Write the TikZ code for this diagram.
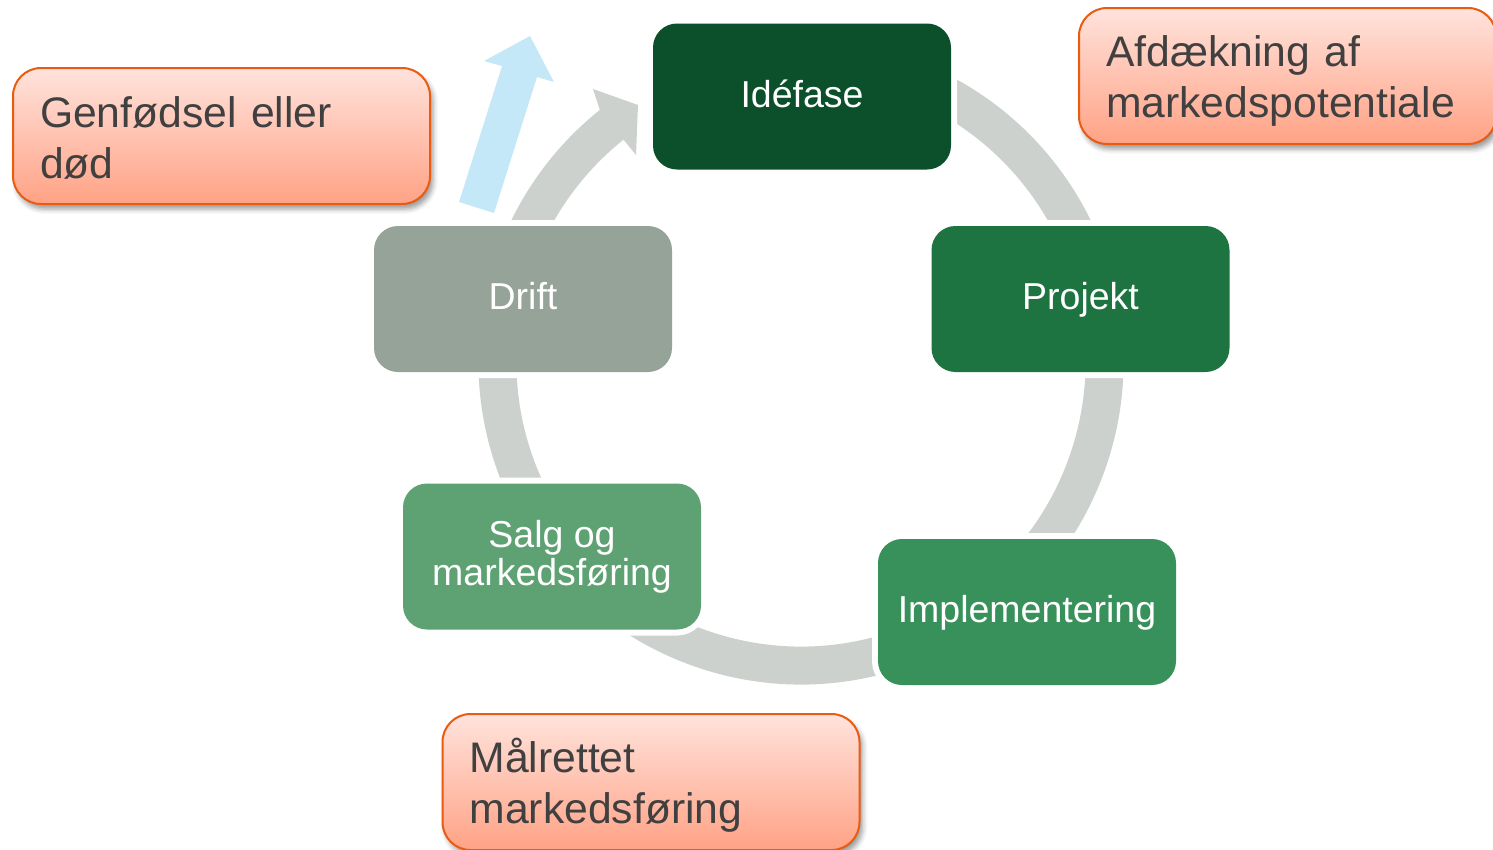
\documentclass[tikz,border=0pt]{standalone}
\usepackage{fontspec}
\setmainfont{Liberation Sans}
\usetikzlibrary{calc,shadows.blur}

\definecolor{ringgray}{HTML}{CDD1CE}
\definecolor{arrowblue}{HTML}{C5E8F9}
\definecolor{phaseA}{HTML}{0B4F2B}
\definecolor{phaseB}{HTML}{1D7440}
\definecolor{phaseC}{HTML}{38915A}
\definecolor{phaseD}{HTML}{5EA173}
\definecolor{phaseE}{HTML}{95A398}
\definecolor{noteTop}{HTML}{FFE3DC}
\definecolor{noteBottom}{HTML}{FFA285}
\definecolor{noteLine}{HTML}{E85B10}
\definecolor{noteText}{HTML}{404040}

\begin{document}
\begin{tikzpicture}[x=1pt, y=1pt,
  stage/.style={rectangle, rounded corners=24pt, minimum width=298pt,
    minimum height=146pt, inner sep=0pt, text=white, align=center,
    font=\fontsize{37.5}{38}\selectfont,
    preaction={draw=white, line width=12pt}},
  oneline/.style={text height=21pt, text depth=0pt},
  twoline/.style={execute at begin node={\rule{0pt}{30pt}},
    execute at end node={\rule[-5pt]{0pt}{5pt}}},
  note/.style={rectangle, rounded corners=28pt, minimum width=417pt,
    minimum height=136pt, text width=363pt, inner xsep=27pt, inner ysep=0pt,
    align=left, draw=noteLine, line width=2pt,
    top color=noteTop, bottom color=noteBottom, text=noteText,
    font=\fontsize{42.7}{51}\selectfont,
    execute at begin node={\rule{0pt}{40pt}},
    execute at end node={\rule[-7pt]{0pt}{7pt}},
    blur shadow={shadow xshift=3pt, shadow yshift=-5pt,
      shadow blur radius=5pt, shadow opacity=40}}
]
\useasboundingbox (0,0) rectangle (1493,-849);

% cycle ring, clockwise from under the first phase round to the arrow head
\coordinate (C) at (801,-362);
\draw[ringgray, line width=38pt]
  ($(C)+(72:303.5)$) arc[start angle=72, end angle=-232, radius=303.5];
% head of the ring arrow, pointing at the first phase
\fill[ringgray] ($(C)+(128.6:322.5)$) -- (593,-89) -- (638,-105) -- (636,-155)
  -- ($(C)+(128.6:284.5)$) -- cycle;

% upward arrow beside the last phase
\fill[arrowblue] (459,-202) -- (502,-66) -- (484,-61) -- (530,-36)
  -- (554,-82) -- (537,-77) -- (494,-213) -- cycle;

% phases
\node[stage, oneline, fill=phaseA] (idea) at (802,-96.5) {Idéfase};
\node[stage, oneline, fill=phaseB] (proj) at (1080.5,-299) {Projekt};
\node[stage, oneline, fill=phaseC] (impl) at (1027,-612) {Implementering};
\node[stage, twoline, fill=phaseD] (sale) at (552,-556.5) {Salg og\\markedsføring};
\node[stage, oneline, fill=phaseE] (run) at (523,-299) {Drift};

% notes
\node[note] (rebirth) at (221.5,-136) {Genfødsel eller\\død};
\node[note] (market) at (1287.5,-76) {Afdækning af\\markedspotentiale};
\node[note] (target) at (651,-782) {Målrettet\\markedsføring};
\end{tikzpicture}
\end{document}
